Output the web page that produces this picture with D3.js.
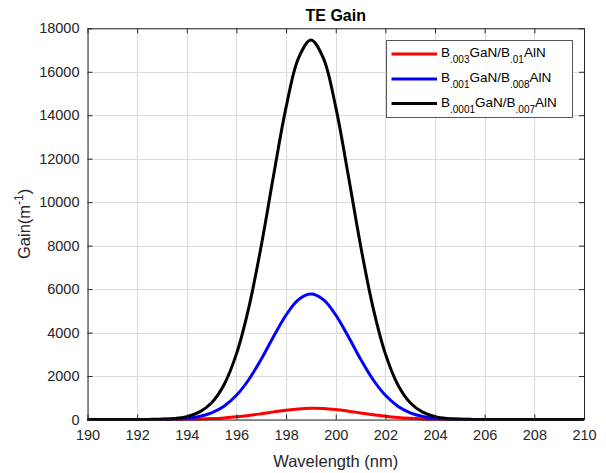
<!DOCTYPE html>
<html>
<head>
<meta charset="utf-8">
<script src="https://cdn.jsdelivr.net/npm/d3@7"></script>
<style>
  html, body { margin: 0; padding: 0; background: #fff; }
  svg { display: block; font-family: "Liberation Sans", Arial, Helvetica, sans-serif; }
</style>
</head>
<body>
<svg id="chart" width="606" height="473"></svg>
<script>
// ---- data ----
const wavelengths = [190,190.5,191,191.5,192,192.5,193,193.5,194,194.5,195,195.5,196,196.5,197,197.5,198,198.5,199,199.5,200,200.5,201,201.5,202,202.5,203,203.5,204,204.5,205,205.5,206,206.5,207,207.5,208,208.5,209,209.5,210];
const gainRed   = [0,0,0,0.1,0.3,0.8,1.9,4.7,10,21,41,74,122,187,266,351,430,488,514,503,456,384,300,217,146,91,53,28,14,6.5,2.8,1.1,0.4,0.1,0,0,0,0,0,0,0];
const gainBlue  = [0,0,0,0.2,0.7,2.5,8,23,60,142,309,614,1112,1840,2778,3826,4809,5517,5775,5517,4809,3826,2778,1840,1112,614,309,142,60,23,8,2.5,0.7,0.2,0,0,0,0,0,0,0];
const gainBlack = [0,0,0,0.3,1,5,16,48,133,337,771,1602,3019,5161,8004,11260,14370,16630,17460,16630,14370,11260,8004,5161,3019,1602,771,337,133,48,16,5,1,0.3,0,0,0,0,0,0,0];
const seriesNames = [
  [["B",""],[".003","sub"],["GaN/B",""],[".01","sub"],["AlN",""]],
  [["B",""],[".001","sub"],["GaN/B",""],[".008","sub"],["AlN",""]],
  [["B",""],[".0001","sub"],["GaN/B",""],[".007","sub"],["AlN",""]]
];
const seriesColors = ["#ff0000", "#0000ff", "#000000"];
const xTicks = [190,192,194,196,198,200,202,204,206,208,210];
const yTicks = [0,2000,4000,6000,8000,10000,12000,14000,16000,18000];
const titleText = "TE Gain";
const xLabelText = "Wavelength (nm)";

// ---- layout ----
const svg = d3.select("#chart");
const L = 87.5, R = 584, T = 28.3, B = 419.5;
const x = d3.scaleLinear().domain([190, 210]).range([L, R]);
const y = d3.scaleLinear().domain([0, 18000]).range([B, T]);
const axisColor = "#262626";

// grid
const grid = svg.append("g");
grid.selectAll("line.gx").data(xTicks).enter().append("line")
  .attr("x1", d => Math.round(x(d)) + 0.5).attr("x2", d => Math.round(x(d)) + 0.5)
  .attr("y1", T).attr("y2", B)
  .attr("stroke", "#dcdcdc").attr("stroke-width", 1);
grid.selectAll("line.gy").data(yTicks).enter().append("line")
  .attr("y1", d => Math.round(y(d)) + 0.5).attr("y2", d => Math.round(y(d)) + 0.5)
  .attr("x1", L).attr("x2", R)
  .attr("stroke", "#dcdcdc").attr("stroke-width", 1);

// series
const seriesData = [gainRed, gainBlue, gainBlack];
const line = d3.line()
  .x(d => x(d[0])).y(d => y(d[1]))
  .curve(d3.curveCatmullRom.alpha(0.5));
seriesData.forEach((vals, i) => {
  const pts = wavelengths.map((w, j) => [w, vals[j]]);
  svg.append("path").datum(pts)
    .attr("d", line)
    .attr("fill", "none")
    .attr("stroke", seriesColors[i])
    .attr("stroke-width", 3)
    .attr("stroke-linejoin", "round");
});

// axes (bottom/left with labels, top/right with ticks only)
const fmt = d3.format("d");
const xAxisB = d3.axisBottom(x).tickValues(xTicks).tickFormat(fmt).tickSizeInner(-5).tickSizeOuter(0).tickPadding(10);
const xAxisT = d3.axisTop(x).tickValues(xTicks).tickFormat("").tickSizeInner(-5).tickSizeOuter(0);
const yAxisL = d3.axisLeft(y).tickValues(yTicks).tickFormat(fmt).tickSizeInner(-5).tickSizeOuter(0).tickPadding(8);
const yAxisR = d3.axisRight(y).tickValues(yTicks).tickFormat("").tickSizeInner(-5).tickSizeOuter(0);

function styleAxis(g) {
  g.selectAll("path").attr("stroke", axisColor).attr("stroke-width", 1);
  g.selectAll("line").attr("stroke", axisColor).attr("stroke-width", 1);
  g.selectAll("text").attr("fill", axisColor).attr("font-size", "14.5px")
    .attr("font-family", "'Liberation Sans', Arial, sans-serif");
}
svg.append("g").attr("transform", `translate(0,${B})`).call(xAxisB).call(styleAxis);
svg.append("g").attr("transform", `translate(0,${T})`).call(xAxisT).call(styleAxis);
svg.append("g").attr("transform", `translate(${L},0)`).call(yAxisL).call(styleAxis);
svg.append("g").attr("transform", `translate(${R},0)`).call(yAxisR).call(styleAxis);

// title
svg.append("text").attr("x", (L + R) / 2).attr("y", 20.5)
  .attr("text-anchor", "middle").attr("font-weight", "bold")
  .attr("font-size", "16px").attr("fill", "#000").text(titleText);

// x label
svg.append("text").attr("x", (L + R) / 2).attr("y", 466.5)
  .attr("text-anchor", "middle").attr("font-size", "16.5px")
  .attr("fill", axisColor).text(xLabelText);

// y label
const yl = svg.append("text")
  .attr("transform", `translate(30,${(T + B) / 2}) rotate(-90)`)
  .attr("text-anchor", "middle").attr("font-size", "16.5px").attr("fill", axisColor);
yl.append("tspan").text("Gain(m");
yl.append("tspan").attr("dy", -7).attr("font-size", "12px").text("-1");
yl.append("tspan").attr("dy", 7).text(")");

// legend
const lg = svg.append("g");
lg.append("rect").attr("x", 386.5).attr("y", 40.5).attr("width", 186).attr("height", 77)
  .attr("fill", "#fff").attr("stroke", "#555").attr("stroke-width", 1);
const rowY = [54, 79, 103.5];
seriesNames.forEach((parts, i) => {
  lg.append("line").attr("x1", 391.5).attr("x2", 437)
    .attr("y1", rowY[i]).attr("y2", rowY[i])
    .attr("stroke", seriesColors[i]).attr("stroke-width", 3);
  const t = lg.append("text").attr("x", 441).attr("y", rowY[i] + 3)
    .attr("font-size", "13.5px").attr("fill", "#000");
  let sub = false;
  parts.forEach(([txt, kind]) => {
    const ts = t.append("tspan").text(txt);
    if (kind === "sub" && !sub) { ts.attr("dy", 6).attr("font-size", "10px"); sub = true; }
    else if (kind === "sub") { ts.attr("font-size", "10px"); }
    else if (sub) { ts.attr("dy", -6); sub = false; }
  });
});
</script>
</body>
</html>
